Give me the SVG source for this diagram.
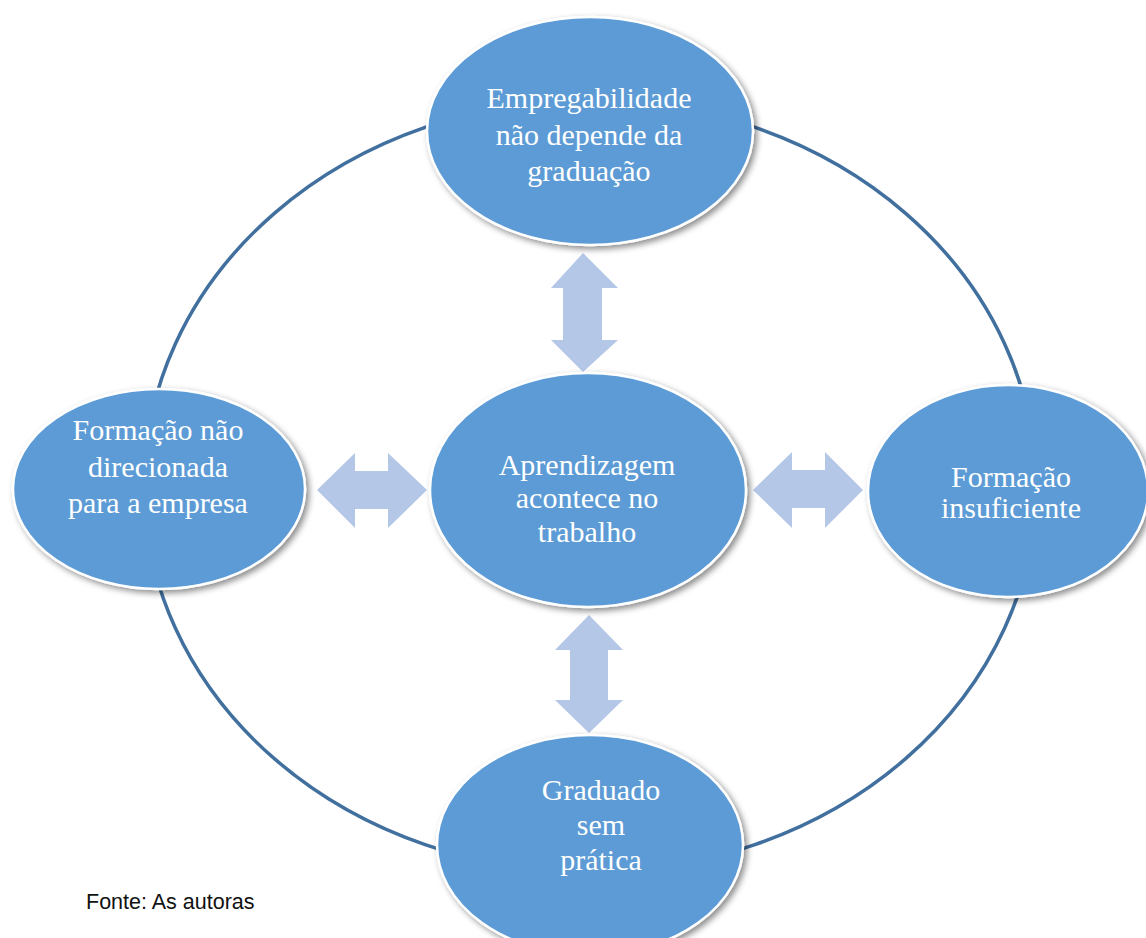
<svg xmlns="http://www.w3.org/2000/svg" width="1146" height="938" viewBox="0 0 1146 938">
  <style>
    .node { fill: #5b9bd5; stroke: #ffffff; stroke-width: 2.5; filter: url(#shadow); }
    .label { fill: #ffffff; font-family: "Liberation Serif", "Times New Roman", serif; font-size: 30px; text-anchor: middle; }
    .ring { fill: none; stroke: #41709f; stroke-width: 3.5; }
    .arrow { fill: #b4c7e7; }
    .caption { fill: #111111; font-family: "Liberation Sans", Arial, sans-serif; font-size: 21.5px; }
  </style>
  <defs>
    <filter id="shadow" x="-10%" y="-10%" width="125%" height="125%">
      <feDropShadow dx="3" dy="3" stdDeviation="3" flood-color="#000000" flood-opacity="0.45"/>
    </filter>
  </defs>

  <rect width="1146" height="938" fill="#ffffff"/>

  <!-- connectors: outer ring and double-headed arrows -->
  <g id="connectors">
    <ellipse class="ring" cx="590" cy="486" rx="446" ry="386"/>
    <!-- top vertical -->
    <polygon class="arrow" points="583,253 618,288 602,288 602,340 618,340 583,372 551,340 563,340 563,288 551,288"/>
    <!-- bottom vertical -->
    <polygon class="arrow" points="589,615 623,650 608,650 608,700 623,700 589,733 555,700 570,700 570,650 555,650"/>
    <!-- left horizontal -->
    <polygon class="arrow" points="317,490 355,453 355,471 388,471 388,453 427,490 388,528 388,509 355,509 355,528"/>
    <!-- right horizontal -->
    <polygon class="arrow" points="753,490 792,452 792,470 825,470 825,452 863,490 825,528 825,508 792,508 792,528"/>
  </g>

  <g id="node-top">
    <ellipse class="node" cx="590" cy="131" rx="163" ry="114"/>
    <text class="label" x="589" y="108">Empregabilidade</text>
    <text class="label" x="589" y="145">não depende da</text>
    <text class="label" x="589" y="181">graduação</text>
  </g>

  <g id="node-left">
    <ellipse class="node" cx="159" cy="489" rx="146" ry="100"/>
    <text class="label" x="158" y="440">Formação não</text>
    <text class="label" x="158" y="477">direcionada</text>
    <text class="label" x="158" y="513">para a empresa</text>
  </g>

  <g id="node-center">
    <ellipse class="node" cx="588" cy="490" rx="158" ry="117"/>
    <text class="label" x="587" y="475">Aprendizagem</text>
    <text class="label" x="587" y="508">acontece no</text>
    <text class="label" x="587" y="542">trabalho</text>
  </g>

  <g id="node-right">
    <ellipse class="node" cx="1008" cy="491" rx="140" ry="106"/>
    <text class="label" x="1011" y="487">Formação</text>
    <text class="label" x="1011" y="518">insuficiente</text>
  </g>

  <g id="node-bottom">
    <ellipse class="node" cx="590" cy="845" rx="153" ry="110"/>
    <text class="label" x="601" y="800">Graduado</text>
    <text class="label" x="601" y="835">sem</text>
    <text class="label" x="601" y="870">prática</text>
  </g>

  <text class="caption" x="86" y="909">Fonte: As autoras</text>
</svg>
